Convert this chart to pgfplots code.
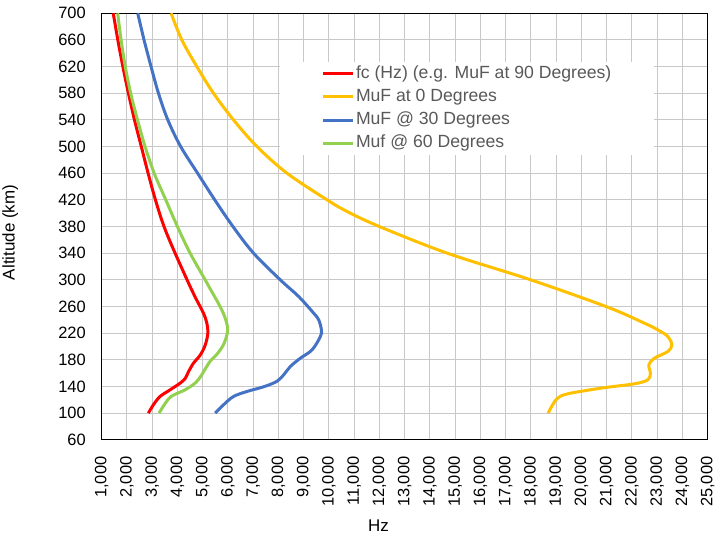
\documentclass[border=0pt]{standalone}
\usepackage{pgfplots}
\pgfplotsset{compat=1.18}
\usepackage{fontspec}
\setmainfont{Liberation Sans}
\definecolor{cRed}{HTML}{FF0000}
\definecolor{cYel}{HTML}{FFC000}
\definecolor{cBlu}{HTML}{4472C4}
\definecolor{cGrn}{HTML}{92D050}
\definecolor{legtext}{HTML}{595959}
\definecolor{gridc}{HTML}{C8C8C8}
\begin{document}
\begin{tikzpicture}
\begin{axis}[
  width=606.3bp, height=426.7bp, scale only axis,
  xmin=1000, xmax=25000, ymin=60, ymax=700,
  xtick={1000,2000,...,25000},
  ytick={60,100,...,700},
  scaled x ticks=false, scaled y ticks=false,
  grid=major,
  major grid style={draw=gridc, line width=1bp},
  axis line style={black, line width=1.1bp},
  major tick length=0pt,
  /pgf/number format/assume math mode=true,
  /pgf/number format/1000 sep={,},
  tick label style={font=\fontsize{16.5}{18}\selectfont, inner sep=0pt, text=black},
  xticklabel style={rotate=90, anchor=east},
  xticklabel shift=16.7bp,
  yticklabel shift=15.7bp,
  xlabel={Hz},
  ylabel={Altitude (km)},
  label style={font=\fontsize{17}{19}\selectfont, inner sep=0pt, text=black},
  xlabel style={at={(axis description cs:0.4569,-0.1875)}, anchor=north},
  ylabel style={at={(axis description cs:-0.1377,0.486)}, anchor=south},
  legend style={at={(axis description cs:0.294,0.886)}, anchor=north west,
    draw=none, fill=white, inner xsep=41.5bp, inner ysep=0pt,
    font=\fontsize{17.7}{19}\selectfont, text=legtext,
    cells={anchor=west}, row sep=0pt,
    nodes={inner xsep=1.5bp, inner ysep=3.1bp, text height=13bp, text depth=4bp}},
  legend image code/.code={\draw[#1] (0bp,0bp) -- (30bp,0bp);},
]
\addplot[cRed, line width=3bp, smooth, tension=0.55, no markers] coordinates {
(2850,100) (3048,112.5) (3313,125) (3710,135) (4107,145) (4306,152) (4437,162)
(4636,175) (4901,187) (5099,202) (5206,220) (5166,235) (5032,250) (4760,270)
(4504,290) (3909,340) (3470,380) (3130,420) (2840,460) (2570,500)
(2300,540) (2060,580) (1840,620) (1640,660) (1460,700)};
\addlegendentry{fc (Hz) (e.g. MuF at 90 Degrees)}
\addplot[cYel, line width=3bp, smooth, tension=0.55, no markers] coordinates {
(18683,100) (18857,112.5) (19056,122.5) (19452,129) (20774,137.5) (22095,144)
(22627,150) (22730,160) (22667,172.5) (22889,182.5) (23421,192.5) (23579,202.5)
(23421,215) (23024,225) (22492,235) (21040,259) (17996,300) (14690,340)
(12000,380) (10750,402) (9929,420) (8341,460) (7151,500) (6222,540) (5429,580) (4770,620)
(4175,660) (3750,700)};
\addlegendentry{MuF at 0 Degrees}
\addplot[cBlu, line width=3bp, smooth, tension=0.55, no markers] coordinates {
(5496,100) (5825,112.5) (6222,125) (6754,132.5) (7450,140) (7950,148)
(8220,158) (8472,170) (8869,182.5) (9333,195) (9663,215) (9702,225)
(9595,240) (9397,250) (8802,275) (8075,300) (7016,340) (6200,380)
(5480,420) (4800,460) (4130,500) (3620,540) (3250,580) (2956,620) (2679,660)
(2429,700)};
\addlegendentry{MuF @ 30 Degrees}
\addplot[cGrn, line width=3bp, smooth, tension=0.55, no markers] coordinates {
(3274,100) (3472,112) (3750,125) (4306,135) (4700,145) (4920,155) (5080,165)
(5300,178) (5600,190) (5850,205) (5990,225) (5870,245) (5620,265) (5320,285)
(5100,300) (4504,340) (4000,380) (3540,420) (3080,460) (2720,500)
(2420,540) (2150,580) (1935,620) (1770,660) (1635,700)};
\addlegendentry{Muf @ 60 Degrees}
\end{axis}
\pgfresetboundingbox
\path[use as bounding box] ([xshift=-101.7bp,yshift=-97bp]current axis.south west) rectangle ([xshift=8.3bp,yshift=13.3bp]current axis.north east);
\end{tikzpicture}
\end{document}
